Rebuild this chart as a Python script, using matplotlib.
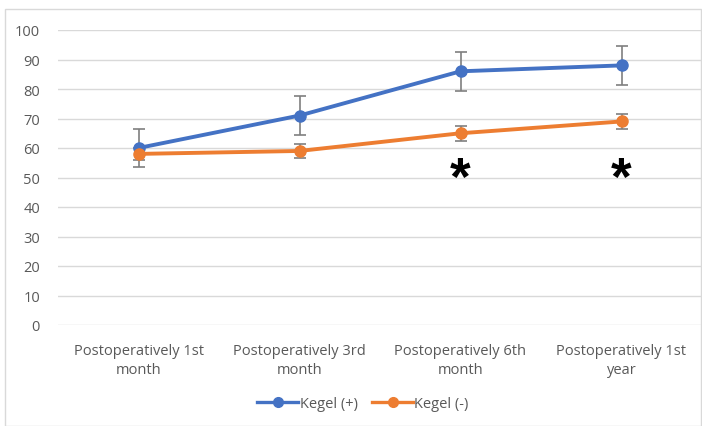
import matplotlib
matplotlib.use("Agg")
import matplotlib.pyplot as plt
from matplotlib.patches import Rectangle
from matplotlib.lines import Line2D

categories = ["Postoperatively 1st\nmonth", "Postoperatively 3rd\nmonth",
              "Postoperatively 6th\nmonth", "Postoperatively 1st\nyear"]
kegel_pos = [60, 71, 86, 88]
kegel_pos_err = [6.5, 6.5, 6.6, 6.6]
kegel_neg = [58, 59, 65, 69]
kegel_neg_err = [2.0, 2.5, 2.5, 2.5]
series_labels = ["Kegel (+)", "Kegel (-)"]
star_idx = [2, 3]
star_y = 49.0
yticks = list(range(0, 101, 10))

W, H = 702, 427
fig = plt.figure(figsize=(W / 100, H / 100), dpi=100)
plt.rcParams['font.family'] = ['Open Sans', 'DejaVu Sans']

# chart border
fig.patches.append(Rectangle((5 / W, 0), 696 / W, 1 - 10 / H, transform=fig.transFigure,
                             fill=False, edgecolor="#d9d9d9", linewidth=1))

ax = fig.add_axes([58 / W, 1 - 326 / H, 644 / W, (326 - 31) / H])
x = list(range(len(categories)))
blue = "#4472C4"
orange = "#ED7D31"
for vals, errs, col in [(kegel_pos, kegel_pos_err, blue), (kegel_neg, kegel_neg_err, orange)]:
    ax.errorbar(x, vals, yerr=errs, color=col, lw=2.8, marker="o", ms=8,
                ecolor="#7f7f7f", elinewidth=1.2, capsize=4, capthick=1.2, zorder=3)
for i in star_idx:
    ax.text(x[i], star_y, "*", ha="center", va="center", fontsize=38, color="black",
            family="Liberation Sans", fontweight="bold")

ax.set_xlim(-0.5, len(categories) - 0.5)
ax.set_ylim(0, 100)
ax.set_yticks(yticks)
ax.set_xticks(x)
ax.set_xticklabels(categories, fontsize=10.5, color="#595959", linespacing=1.35)
ax.tick_params(axis="y", labelsize=10.5, labelcolor="#595959", length=0, pad=13)
ax.tick_params(axis="x", length=0, pad=13)
ax.grid(axis="y", color="#d9d9d9", lw=1)
ax.set_axisbelow(True)
for s in ax.spines.values():
    s.set_visible(False)

handles = [Line2D([], [], color=blue, lw=2.4, marker="o", ms=7),
           Line2D([], [], color=orange, lw=2.4, marker="o", ms=7)]
fig.legend(handles, series_labels, loc="center", bbox_to_anchor=(363 / W, 1 - 405 / H), ncol=2,
           frameon=False, fontsize=10.5, labelcolor="#595959", handlelength=2.8,
           handletextpad=0.1, columnspacing=1.0)

fig.savefig("out.png", dpi=100)
